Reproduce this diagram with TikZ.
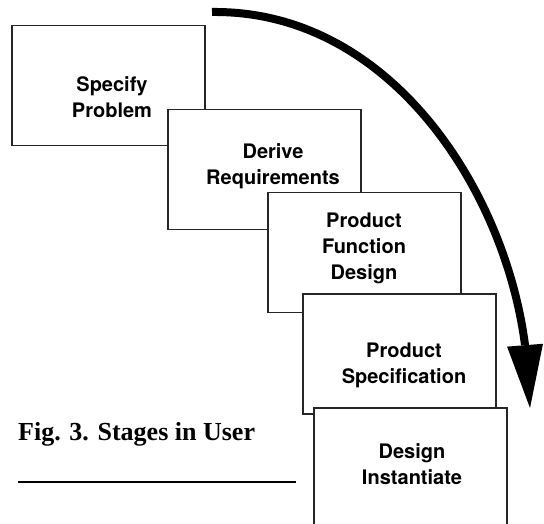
\documentclass[tikz,border=0pt]{standalone}
\usepackage{fontspec}
\newfontfamily\stagefont{TeX Gyre Heros}
\newfontfamily\captionfont{Liberation Serif}
\usetikzlibrary{arrows.meta}

\begin{document}
\begin{tikzpicture}[
    x=1pt, y=-1pt,
    stage/.style={draw=black!85, line width=1.2pt, fill=white,
      minimum width=193pt, minimum height=120pt, inner sep=0pt},
    stagetext/.style={align=center, inner sep=0pt,
      font=\stagefont\bfseries\fontsize{20}{26}\selectfont},
    caption/.style={inner sep=0pt, font=\captionfont\bfseries\fontsize{26}{30}\selectfont},
    flow/.style={line width=8pt, -{Triangle[length=63pt,width=36pt,line width=0pt]}}
  ]
  \useasboundingbox (0,0) rectangle (544,524);

  % stacked stage sheets
  \node[stage] (box1) at (108.5,85.5) {};
  \node[stagetext] (specify) at (112,97) {Specify\\Problem};
  \node[stage] (box2) at (264.5,169.5) {};
  \node[stagetext] (derive) at (273,166) {Derive\\Requirements};
  \node[stage] (box3) at (364.5,252.5) {};
  \node[stagetext] (function) at (364,248) {Product\\Function\\Design};
  \node[stage] (box4) at (399.5,354) {};
  \node[stagetext] (product) at (404,365) {Product\\Specification};
  \node[stage] (box5) at (410.5,468) {};
  \node[stagetext] (design) at (412,464) {Design\\Instantiate};

  % caption
  \node[caption, anchor=base west] (figcap) at (18,440) {Fig. 3. Stages in User};
  \draw[line width=1.3pt] (18,482) -- (296,482);

  % sweeping arrow
  \coordinate (flowstart) at (212,12);
  \coordinate (flowbend) at (525,345);
  \coordinate (flowtip) at (530,408);
  \draw[flow] (flowstart) .. controls (390,10) and (505,190) .. (flowbend) -- (flowtip);
\end{tikzpicture}
\end{document}
